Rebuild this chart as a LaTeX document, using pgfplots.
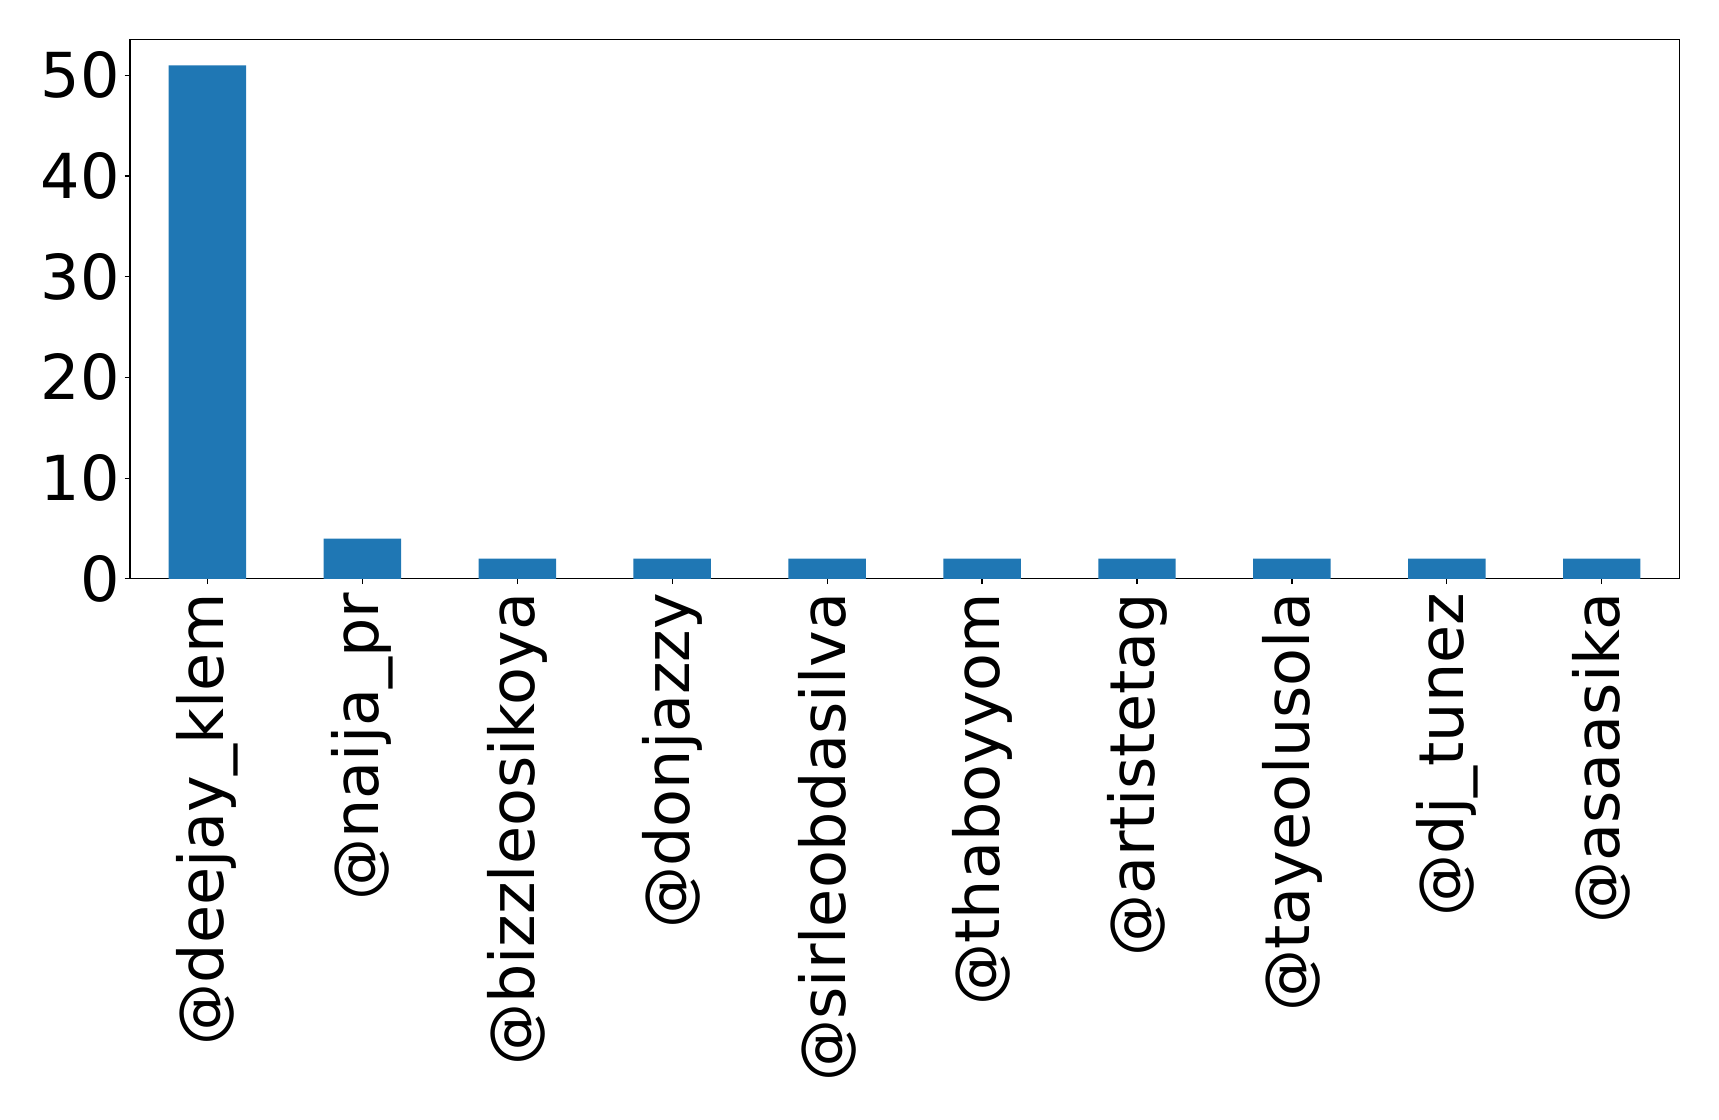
\documentclass[border=0pt]{standalone}
\usepackage{pgfplots}
\pgfplotsset{compat=1.18}
\usepackage{fontspec}
\setmainfont{DejaVu Sans}
\definecolor{barblue}{HTML}{1F77B4}
\begin{document}
\begin{tikzpicture}
% 1 px of the reference = 0.25pt
\begin{axis}[
    at={(0,0)}, anchor=south west,
    scale only axis, width=387.3pt, height=134.8pt,
    xmin=-0.5, xmax=9.5, ymin=0, ymax=53.55,
    xtick={0,...,9},
    xticklabels={@deejay\_klem,@naija\_pr,@bizzleosikoya,@donjazzy,@sirleobdasilva,@thaboyyom,@artistetag,@tayeolusola,@dj\_tunez,@asaasika},
    ytick={0,10,20,30,40,50},
    tick align=outside, xtick pos=bottom, ytick pos=left,
    major tick length=1.33pt,
    tick style={black, line width=0.3pt},
    axis line style={line width=0.3pt},
    /pgf/number format/assume math mode=true,
    ticklabel style={font=\fontsize{15.5pt}{18pt}\selectfont},
    xticklabel style={rotate=90, anchor=east, inner sep=2.0pt},
    yticklabel style={inner sep=1.0pt},
    ybar, bar width=0.5,
]
\addplot[fill=barblue, draw=none] coordinates {
    (0,51) (1,4) (2,2) (3,2) (4,2) (5,2) (6,2) (7,2) (8,2) (9,2)
};
\end{axis}
\path (-32.5pt,-135.3pt) rectangle (397.25pt,144.7pt);
\end{tikzpicture}
\end{document}
